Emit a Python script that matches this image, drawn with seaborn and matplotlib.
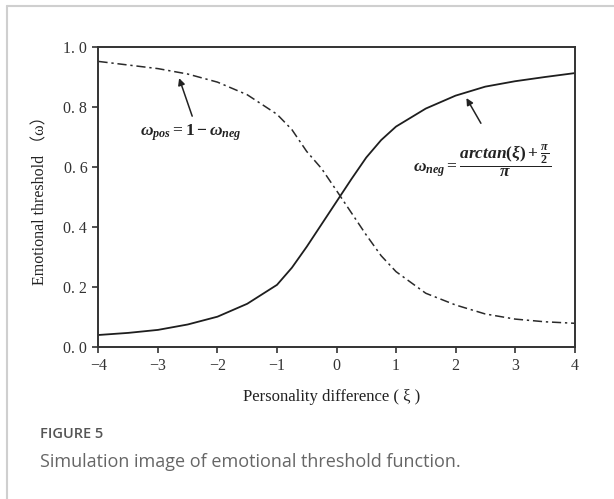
import numpy as np
import pandas as pd
import seaborn as sns
import matplotlib
matplotlib.use("Agg")
from matplotlib import pyplot as plt
from matplotlib.lines import Line2D

# values
xi = [-4, -3.5, -3, -2.5, -2, -1.5, -1, -0.75, -0.5, -0.25, 0,
      0.25, 0.5, 0.75, 1, 1.5, 2, 2.5, 3, 3.5, 4]
w_neg = [0.041, 0.048, 0.058, 0.076, 0.102, 0.145, 0.208, 0.265, 0.335, 0.41, 0.485,
         0.56, 0.632, 0.69, 0.735, 0.795, 0.838, 0.868, 0.886, 0.900, 0.913]
w_pos = [0.952, 0.940, 0.928, 0.910, 0.883, 0.841, 0.776, 0.725, 0.652, 0.595, 0.522,
         0.448, 0.374, 0.305, 0.252, 0.18, 0.141, 0.111, 0.094, 0.085, 0.080]
xticks = [-4, -3, -2, -1, 0, 1, 2, 3, 4]
xtick_labels = ["\u22124", "\u22123", "\u22122", "\u22121", "0", "1", "2", "3", "4"]
yticks = [0.0, 0.2, 0.4, 0.6, 0.8, 1.0]
ytick_labels = ["0. 0", "0. 2", "0. 4", "0. 6", "0. 8", "1. 0"]

df = pd.DataFrame({"xi": xi, "neg": w_neg, "pos": w_pos})

sns.set_style("ticks")
plt.rcParams["font.family"] = ["Liberation Serif", "Noto Sans CJK SC", "DejaVu Sans"]
plt.rcParams["mathtext.fontset"] = "custom"
plt.rcParams["mathtext.it"] = "Liberation Serif:italic:bold"
plt.rcParams["mathtext.rm"] = "Liberation Serif:bold"
plt.rcParams["mathtext.bf"] = "Liberation Serif:bold"

fig = plt.figure(figsize=(6.14, 4.99), dpi=100)
ax = fig.add_axes([0.1604, 0.304, 0.7753, 0.6018])

sns.lineplot(data=df, x="xi", y="neg", ax=ax, color="#1e1e1e", lw=1.3)
sns.lineplot(data=df, x="xi", y="pos", ax=ax, color="#2a2a2a", lw=1.1,
             linestyle=(0, (6, 2.5, 1.5, 2.5)))

ax.set_xlim(-4, 4)
ax.set_ylim(0, 1)
ax.set_xticks(xticks)
ax.set_xticklabels(xtick_labels)
ax.set_yticks(yticks)
ax.set_yticklabels(ytick_labels)
ax.tick_params(direction="out", length=4.5, width=1.2, labelsize=11.5,
               colors="#333333", labelcolor="#333333")
for s in ax.spines.values():
    s.set_visible(True)
    s.set_linewidth(1.4)
    s.set_color("#333333")

ax.set_xlabel("Personality difference ( \u03be )", fontsize=12, color="#222222")
ax.set_ylabel("Emotional threshold \uff08\u03c9\uff09", fontsize=11.5, color="#222222")
ax.xaxis.set_label_coords(0.49, -0.14)
ax.yaxis.set_label_coords(-0.106, 0.5)

# formula labels with arrows
ax.annotate("", xy=(-2.66, 0.905), xytext=(-2.41, 0.761),
            arrowprops=dict(arrowstyle="-|>", color="#222222", lw=1.1, mutation_scale=10))
ax.text(-2.44, 0.713, r"$\omega_{pos}=\mathbf{1}-\omega_{neg}$", ha="center", va="center",
        fontsize=12.5, color="#222222")
ax.annotate("", xy=(2.16, 0.838), xytext=(2.45, 0.738),
            arrowprops=dict(arrowstyle="-|>", color="#222222", lw=1.1, mutation_scale=10))
ax.text(2.44, 0.62, r"$\omega_{neg}=\dfrac{arctan(\xi)+\frac{\pi}{2}}{\pi}$",
        ha="center", va="center", fontsize=12.5, color="#222222")

# card border and caption
fig.add_artist(Line2D([6.5 / 614, 1.0], [1 - 5.5 / 499, 1 - 5.5 / 499],
                      transform=fig.transFigure, color="#cfcfcf", lw=1.5))
fig.add_artist(Line2D([6.5 / 614, 6.5 / 614], [0.0, 1 - 5.5 / 499],
                      transform=fig.transFigure, color="#cfcfcf", lw=1.5))
fig.text(40 / 614, 1 - 434 / 499, "FIGURE 5", family="Open Sans", weight="semibold",
         fontsize=10.5, color="#555555", va="center")
fig.text(40 / 614, 1 - 462 / 499, "Simulation image of emotional threshold function.",
         family="Open Sans", fontsize=13, color="#666666", va="center")

fig.savefig("out.png", dpi=100)
